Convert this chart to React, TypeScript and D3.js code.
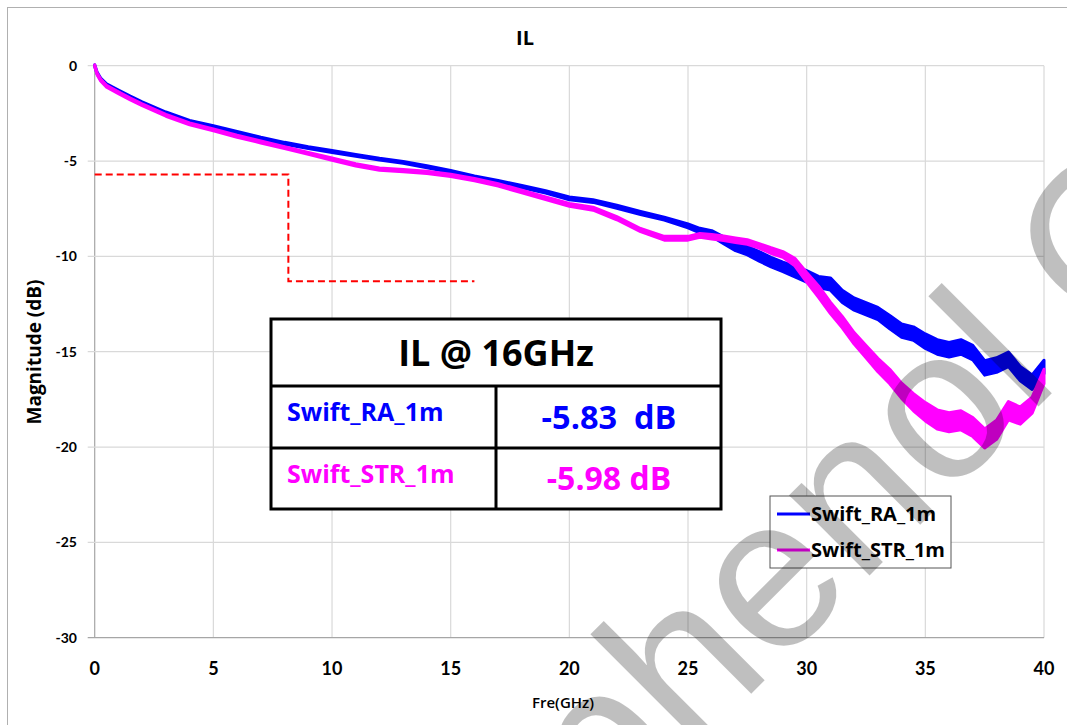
import React from 'react';
import * as d3 from 'd3';

// frequency grid (GHz) shared by both traces
const freq = [0, 0.1, 0.25, 0.5, 1, 1.5, 2, 3, 4, 5, 6, 7, 8, 9, 10, 11, 12, 13, 14, 15, 16, 17, 18, 19, 20,
  21, 22, 23, 24, 25, 25.5, 26, 26.5, 27, 27.5, 28, 28.5, 29, 29.5, 30, 30.5, 31, 31.5, 32, 32.5, 33, 33.5,
  34, 34.5, 35, 35.5, 36, 36.5, 37, 37.5, 38, 38.5, 39, 39.5, 40];

// Swift_RA_1m insertion loss (dB)
const ilRA = [0, -0.38, -0.7, -1.0, -1.33, -1.65, -1.95, -2.48, -2.92, -3.2, -3.5, -3.8, -4.07, -4.3, -4.5,
  -4.7, -4.9, -5.07, -5.3, -5.55, -5.83, -6.08, -6.34, -6.62, -6.96, -7.1, -7.4, -7.72, -8.02, -8.4, -8.65,
  -8.8, -9.15, -9.5, -9.7, -10.0, -10.3, -10.55, -10.8, -11.05, -11.35, -11.45, -12.1, -12.5, -12.75, -13.0,
  -13.45, -13.9, -14.05, -14.45, -14.75, -14.9, -14.75, -15.05, -15.85, -15.7, -15.4, -16.15, -16.6, -15.8];
// measurement noise half-width (dB)
const noiseRA = [0.05, 0.05, 0.05, 0.05, 0.05, 0.05, 0.05, 0.05, 0.05, 0.05, 0.05, 0.05, 0.05, 0.05, 0.05,
  0.05, 0.05, 0.05, 0.05, 0.05, 0.05, 0.06, 0.06, 0.06, 0.07, 0.07, 0.08, 0.08, 0.08, 0.1, 0.12,
  0.15, 0.18, 0.2, 0.22, 0.25, 0.25, 0.25, 0.28, 0.3, 0.3, 0.32, 0.32, 0.32, 0.32, 0.32,
  0.35, 0.35, 0.35, 0.38, 0.38, 0.38, 0.38, 0.38, 0.38, 0.38, 0.38, 0.38, 0.38, 0.35];

// Swift_STR_1m insertion loss (dB)
const ilSTR = [0, -0.42, -0.75, -1.08, -1.42, -1.75, -2.05, -2.6, -3.05, -3.37, -3.7, -4.0, -4.3, -4.6, -4.9,
  -5.2, -5.42, -5.5, -5.6, -5.75, -5.98, -6.25, -6.6, -6.95, -7.3, -7.5, -8.0, -8.62, -9.05, -9.05, -8.9,
  -8.97, -9.05, -9.15, -9.25, -9.45, -9.7, -9.9, -10.3, -11.1, -11.85, -12.7, -13.45, -14.3, -15.0, -15.7,
  -16.3, -17.05, -17.65, -18.15, -18.55, -18.7, -18.6, -18.95, -19.55, -19.1, -18.1, -18.35, -17.8, -16.3];
const noiseSTR = [0.05, 0.05, 0.05, 0.05, 0.05, 0.05, 0.05, 0.05, 0.05, 0.05, 0.05, 0.05, 0.05, 0.05, 0.06,
  0.06, 0.06, 0.06, 0.06, 0.06, 0.06, 0.06, 0.07, 0.07, 0.07, 0.08, 0.08, 0.08, 0.1, 0.1, 0.1,
  0.12, 0.12, 0.12, 0.12, 0.12, 0.15, 0.15, 0.2, 0.25, 0.3, 0.3, 0.3, 0.3, 0.32, 0.35,
  0.38, 0.4, 0.45, 0.48, 0.5, 0.5, 0.5, 0.5, 0.5, 0.5, 0.48, 0.45, 0.42, 0.38];

// mask / limit line
const limitFreq = [0, 8.16, 8.16, 16];
const limitIL = [-5.7, -5.7, -11.3, -11.3];

const xTicks = [0, 5, 10, 15, 20, 25, 30, 35, 40];
const yTicks = [0, -5, -10, -15, -20, -25, -30];

const seriesNames = ['Swift_RA_1m', 'Swift_STR_1m'];
const seriesColors = ['#0000ff', '#ff00ff'];
const tableTitle = 'IL @ 16GHz';
const tableValues = ['-5.83  dB', '-5.98 dB'];

const TICK_FONT = 'Lato, "Open Sans", sans-serif';
const FONT = '"Open Sans", Lato, sans-serif';

export default function App() {
  const W = 1067, H = 725;
  const x = d3.scaleLinear().domain([0, 40]).range([94.7, 1044]);
  const y = d3.scaleLinear().domain([-30, 0]).range([637.7, 65.7]);

  const traces = [
    { name: seriesNames[0], color: seriesColors[0], v: ilRA, n: noiseRA },
    { name: seriesNames[1], color: seriesColors[1], v: ilSTR, n: noiseSTR },
  ];

  const band = d3.area<number>()
    .x((_, i) => x(freq[i]));

  const limitLine = d3.line<number>()
    .x((_, i) => x(limitFreq[i]))
    .y(d => y(d));

  return (
    <svg width={W} height={H} style={{ position: 'absolute', left: 0, top: 0, background: '#fff' }}
      fontFamily={FONT}>
      <rect x={0} y={0} width={W} height={H} fill="#fff" />
      <rect x={7.5} y={7.5} width={W + 20} height={H + 20} fill="none" stroke="#b0b0b0" strokeWidth={1} />

      {/* grid */}
      {xTicks.map(t => (
        <line key={'gx' + t} x1={x(t)} x2={x(t)} y1={y(0)} y2={y(-30)}
          stroke={t === 0 ? '#a6a6a6' : '#d9d9d9'} strokeWidth={1.2} />
      ))}
      {yTicks.map(t => (
        <line key={'gy' + t} x1={x(0) - 7} x2={x(40)} y1={y(t)} y2={y(t)}
          stroke={t === -30 ? '#a6a6a6' : '#d9d9d9'} strokeWidth={1.2} />
      ))}

      {/* tick labels */}
      {yTicks.map(t => (
        <text key={'ly' + t} x={77} y={y(t) + 5} textAnchor="end" fontFamily={TICK_FONT}
          fontSize={14} fontWeight={700}>{t}</text>
      ))}
      {xTicks.map(t => (
        <text key={'lx' + t} x={x(t)} y={675} textAnchor="middle" fontFamily={TICK_FONT}
          fontSize={18} fontWeight={700}>{t}</text>
      ))}

      <text x={525} y={45} textAnchor="middle" fontSize={20} fontWeight={700}>IL</text>
      <text x={563} y={708} textAnchor="middle" fontSize={15} fontWeight={600}>Fre(GHz)</text>
      <text transform={`translate(41,352) rotate(-90)`} textAnchor="middle" fontSize={19} fontWeight={700}>
        Magnitude (dB)
      </text>

      {/* limit */}
      <path d={limitLine(limitIL) || ''} fill="none" stroke="#ff0000" strokeWidth={2} strokeDasharray="7,4" />

      {/* traces */}
      {traces.map(s => (
        <path key={s.name}
          d={band.y0((d, i) => y(d - s.n[i])).y1((d, i) => y(d + s.n[i]))(s.v) || ''}
          fill={s.color} stroke={s.color} strokeWidth={3} strokeLinejoin="round" />
      ))}

      {/* summary table */}
      <g>
        <rect x={271} y={319} width={450} height={190} fill="#fff" stroke="#000" strokeWidth={3} />
        <line x1={271} x2={721} y1={386} y2={386} stroke="#000" strokeWidth={3} />
        <line x1={271} x2={721} y1={448} y2={448} stroke="#000" strokeWidth={3} />
        <line x1={496} x2={496} y1={386} y2={509} stroke="#000" strokeWidth={3} />
        <text x={496} y={366} textAnchor="middle" fontSize={36} fontWeight={700}>{tableTitle}</text>
        {traces.map((s, i) => (
          <g key={'t' + i}>
            <text x={287} y={i === 0 ? 421 : 483} fontSize={25} fontWeight={700} fill={s.color}>{s.name}</text>
            <text x={609} y={i === 0 ? 429 : 490} textAnchor="middle" fontSize={i === 0 ? 32.5 : 32} fontWeight={700}
              fill={s.color} style={{ whiteSpace: 'pre' }}>{tableValues[i]}</text>
          </g>
        ))}
      </g>

      {/* legend */}
      <g>
        <rect x={770} y={496} width={181} height={72} fill="#fff" stroke="#555" strokeWidth={1} />
        {traces.map((s, i) => (
          <g key={'lg' + i} transform={`translate(0,${514 + i * 36})`}>
            <line x1={777} x2={810} y1={0} y2={0} stroke={s.color} strokeWidth={3} />
            <text x={811} y={7} fontSize={20} fontWeight={700}>{s.name}</text>
          </g>
        ))}
      </g>

      {/* watermark */}
      <g transform="translate(1062,383) rotate(-45)" fill="#000" fillOpacity={0.25} fontSize={215}
        fontFamily='"Liberation Sans", Arial, sans-serif'>
        <text x={0} y={0} textAnchor="end">Amphenol</text>
        <text x={55} y={0}>Confidential</text>
      </g>
    </svg>
  );
}
